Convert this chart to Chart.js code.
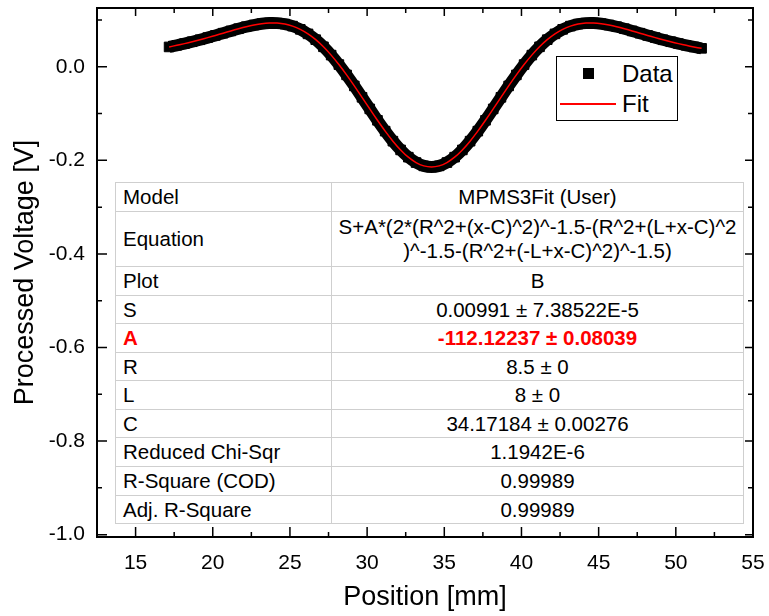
<!DOCTYPE html>
<html>
<head>
<meta charset="utf-8">
<script src="https://cdn.jsdelivr.net/npm/chart.js@4.4.1/dist/chart.umd.min.js"></script>
<style>
html,body{margin:0;padding:0;background:#fff;}
#wrap{position:relative;width:769px;height:616px;font-family:"Liberation Sans",Arial,Helvetica,sans-serif;color:#000;overflow:hidden;}
#chart{position:absolute;left:0;top:0;}
#legend{position:absolute;left:556px;top:56px;width:122px;height:65px;box-sizing:border-box;border:1px solid #000;background:#fff;}
#legend .sq{position:absolute;left:26px;top:11px;width:11px;height:11px;background:#000;}
#legend .ln{position:absolute;left:3px;top:46px;width:56px;height:1.5px;background:#ff0000;}
#legend .tx{position:absolute;left:65px;font-size:24px;line-height:28px;white-space:nowrap;}
#fit{position:absolute;left:115px;top:182px;width:628px;border-collapse:collapse;table-layout:fixed;background:#fff;font-size:20.5px;line-height:24px;}
#fit{border:1px solid #8a8a8a;}
#fit td{border:1px solid #cfcfcf;padding:0;vertical-align:middle;white-space:nowrap;overflow:visible;}
#fit td.k{padding-left:7px;text-align:left;}
#fit td.v{text-align:center;}
#fit tr.red td{color:#ff0000;font-weight:bold;}
</style>
</head>
<body>
<div id="wrap">
<canvas id="chart" width="769" height="616"></canvas>
<div id="legend">
  <div class="sq"></div><div class="tx" style="top:3px">Data</div>
  <div class="ln"></div><div class="tx" style="top:33px">Fit</div>
</div>
<table id="fit">
  <colgroup><col style="width:216px"><col style="width:412px"></colgroup>
  <tbody id="fitBody"></tbody>
</table>
</div>
<script>
// ---- values ----
const positions = [17.17,17.67,18.17,18.67,19.17,19.67,20.17,20.67,21.17,21.67,22.17,22.67,23.17,23.67,24.17,24.67,25.17,25.67,26.17,26.67,27.17,27.67,28.17,28.67,29.17,29.67,30.17,30.67,31.17,31.67,32.17,32.67,33.17,33.67,34.17,34.67,35.17,35.67,36.17,36.67,37.17,37.67,38.17,38.67,39.17,39.67,40.17,40.67,41.17,41.67,42.17,42.67,43.17,43.67,44.17,44.67,45.17,45.67,46.17,46.67,47.17,47.67,48.17,48.67,49.17,49.67,50.17,50.67,51.17,51.67];
const dataValues = [0.0424,0.0458,0.0495,0.0535,0.0577,0.0623,0.0670,0.0718,0.0766,0.0813,0.0856,0.0892,0.0920,0.0935,0.0933,0.0912,0.0869,0.0800,0.0703,0.0579,0.0427,0.0249,0.0047,-0.0174,-0.0409,-0.0653,-0.0901,-0.1144,-0.1376,-0.1590,-0.1777,-0.1932,-0.2047,-0.2118,-0.2142,-0.2118,-0.2047,-0.1932,-0.1777,-0.1590,-0.1376,-0.1144,-0.0901,-0.0653,-0.0409,-0.0174,0.0047,0.0249,0.0427,0.0579,0.0703,0.0800,0.0869,0.0912,0.0933,0.0935,0.0920,0.0892,0.0856,0.0813,0.0766,0.0718,0.0670,0.0623,0.0577,0.0535,0.0495,0.0458,0.0424,0.0394];
const fitValues = [0.0424,0.0458,0.0495,0.0535,0.0577,0.0623,0.0670,0.0718,0.0766,0.0813,0.0856,0.0892,0.0920,0.0935,0.0933,0.0912,0.0869,0.0800,0.0703,0.0579,0.0427,0.0249,0.0047,-0.0174,-0.0409,-0.0653,-0.0901,-0.1144,-0.1376,-0.1590,-0.1777,-0.1932,-0.2047,-0.2118,-0.2142,-0.2118,-0.2047,-0.1932,-0.1777,-0.1590,-0.1376,-0.1144,-0.0901,-0.0653,-0.0409,-0.0174,0.0047,0.0249,0.0427,0.0579,0.0703,0.0800,0.0869,0.0912,0.0933,0.0935,0.0920,0.0892,0.0856,0.0813,0.0766,0.0718,0.0670,0.0623,0.0577,0.0535,0.0495,0.0458,0.0424,0.0394];
const xTickValues = [15,20,25,30,35,40,45,50,55];
const xMinorTicks = [17.5,22.5,27.5,32.5,37.5,42.5,47.5,52.5];
const yTickValues = [-1.0,-0.8,-0.6,-0.4,-0.2,0.0];
const yMinorTicks = [-0.9,-0.7,-0.5,-0.3,-0.1,0.1];
const tableLabels = ["Model","Equation","Plot","S","A","R","L","C","Reduced Chi-Sqr","R-Square (COD)","Adj. R-Square"];
const tableValues = ["MPMS3Fit (User)","S+A*(2*(R^2+(x-C)^2)^-1.5-(R^2+(L+x-C)^2\n)^-1.5-(R^2+(-L+x-C)^2)^-1.5)","B","0.00991 \u00b1 7.38522E-5","-112.12237 \u00b1 0.08039","8.5 \u00b1 0","8 \u00b1 0","34.17184 \u00b1 0.00276","1.1942E-6","0.99989","0.99989"];
const rowHeights = [29,55,29,28,29,28,29,28,29,29,28];

// ---- table ----
const body = document.getElementById('fitBody');
tableLabels.forEach((lab, i) => {
  const tr = document.createElement('tr');
  tr.style.height = rowHeights[i] + 'px';
  if (lab === 'A') tr.className = 'red';
  const a = document.createElement('td'); a.className = 'k'; a.textContent = lab;
  const b = document.createElement('td'); b.className = 'v';
  tableValues[i].split('\n').forEach((part, j) => {
    if (j) b.appendChild(document.createElement('br'));
    b.appendChild(document.createTextNode(part));
  });
  tr.appendChild(a); tr.appendChild(b); body.appendChild(tr);
});

// ---- chart ----
const FAM = '"Liberation Sans", Arial, Helvetica, sans-serif';
const frameTicks = {
  id: 'frameTicks',
  afterDatasetsDraw(chart) {
    const {ctx, chartArea: a, scales: {x, y}} = chart;
    ctx.save();
    ctx.strokeStyle = '#000';
    ctx.lineWidth = 1.5;
    ctx.beginPath();
    const seg = (x0, y0, x1, y1) => { ctx.moveTo(x0, y0); ctx.lineTo(x1, y1); };
    xTickValues.forEach(v => { const p = x.getPixelForValue(v); seg(p, a.bottom, p, a.bottom - 10); seg(p, a.top, p, a.top + 8); });
    xMinorTicks.forEach(v => { const p = x.getPixelForValue(v); seg(p, a.bottom, p, a.bottom - 5); seg(p, a.top, p, a.top + 5); });
    yTickValues.forEach(v => { const p = y.getPixelForValue(v); seg(a.left, p, a.left + 10, p); seg(a.right, p, a.right - 8, p); });
    yMinorTicks.forEach(v => { const p = y.getPixelForValue(v); seg(a.left, p, a.left + 5, p); seg(a.right, p, a.right - 5, p); });
    ctx.stroke();
    ctx.lineWidth = 2;
    ctx.strokeRect(a.left, a.top, a.right - a.left, a.bottom - a.top);
    ctx.restore();
  }
};

new Chart(document.getElementById('chart'), {
  type: 'scatter',
  data: {
    datasets: [
      {
        label: 'Fit',
        data: positions.map((x, i) => ({x: x, y: fitValues[i]})),
        showLine: true, borderColor: '#ff0000', borderWidth: 1.5,
        pointRadius: 0, tension: 0.2, order: 0
      },
      {
        label: 'Data',
        data: positions.map((x, i) => ({x: x, y: dataValues[i]})),
        showLine: true, borderColor: '#000', borderWidth: 12, borderJoinStyle: 'round', borderCapStyle: 'butt',
        pointStyle: 'rect', pointRadius: 6.8, pointBackgroundColor: '#000',
        pointBorderColor: '#000', pointBorderWidth: 1, tension: 0.2, order: 1
      }
    ]
  },
  options: {
    responsive: false, animation: false, devicePixelRatio: 1,
    layout: {padding: {left: 0, right: 16, top: 8, bottom: 0}},
    plugins: {legend: {display: false}, tooltip: {enabled: false}},
    scales: {
      x: {
        type: 'linear', min: 12.5, max: 55,
        afterBuildTicks: s => { s.ticks = xTickValues.map(v => ({value: v})); },
        ticks: {font: {family: FAM, size: 21}, color: '#000', padding: 14, maxRotation: 0, autoSkip: false, callback: v => String(v)},
        grid: {display: false, drawTicks: false},
        border: {display: false},
        title: {display: true, text: 'Position [mm]', color: '#000', font: {family: FAM, size: 27}, padding: {top: 0, bottom: 2}},
        afterFit: s => { s.height = 79; s.paddingLeft = 0; s.paddingRight = 0; }
      },
      y: {
        type: 'linear', min: -1.005, max: 0.1256,
        afterBuildTicks: s => { s.ticks = yTickValues.map(v => ({value: v})); },
        ticks: {font: {family: FAM, size: 21}, color: '#000', padding: 12, autoSkip: false, callback: v => Number(v).toFixed(1)},
        grid: {display: false, drawTicks: false},
        border: {display: false},
        title: {display: true, text: 'Processed Voltage [V]', color: '#000', font: {family: FAM, size: 27}, padding: {top: 9, bottom: 0}},
        afterFit: s => { s.width = 97; s.paddingTop = 0; s.paddingBottom = 0; }
      }
    }
  },
  plugins: [frameTicks]
});
</script>
</body>
</html>
